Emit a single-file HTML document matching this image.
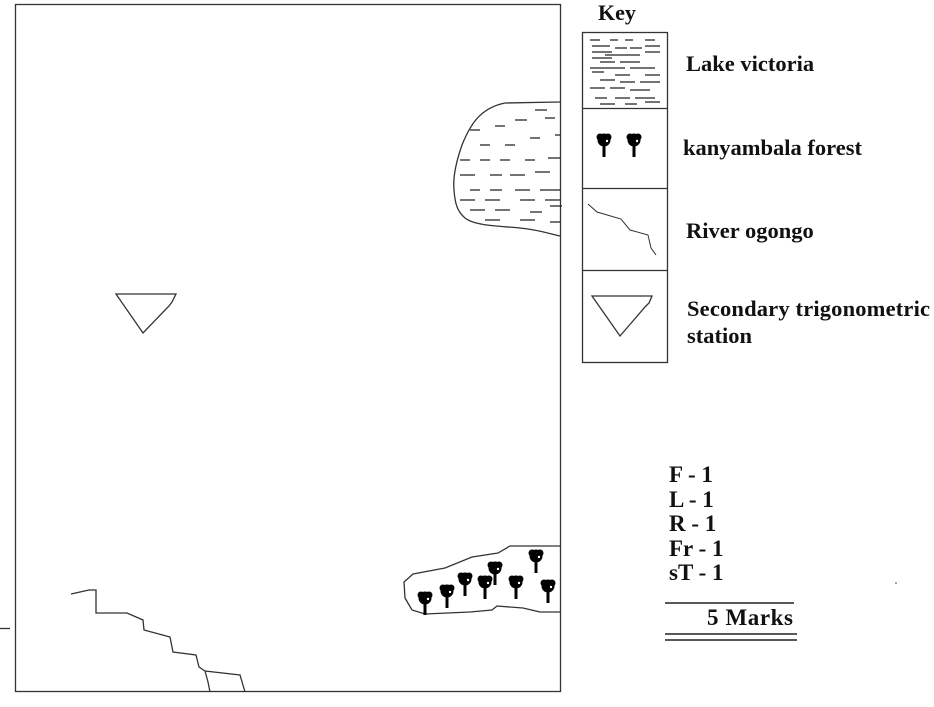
<!DOCTYPE html>
<html><head><meta charset="utf-8"><style>
body{margin:0;background:#fff}
svg text{font-family:"Liberation Serif",serif;font-weight:bold;fill:#111}
</style></head><body>
<svg width="934" height="702" viewBox="0 0 934 702" xmlns="http://www.w3.org/2000/svg">
<defs>
<g id="tree"><circle cx="0" cy="0" r="6.5" fill="#000"/><circle cx="-4" cy="-3" r="3.5" fill="#000"/><circle cx="4" cy="-3" r="3.5" fill="#000"/><rect x="-1.5" y="3" width="3" height="14" fill="#000"/><circle cx="3" cy="1" r="1.2" fill="#fff"/></g>
</defs>
<g fill="none" stroke="#333" stroke-width="1.3">
<rect x="15.5" y="4.5" width="545" height="687"/>
<rect x="582.5" y="32.5" width="85" height="330"/>
<line x1="582" y1="108.5" x2="668" y2="108.5"/>
<line x1="582" y1="188.5" x2="668" y2="188.5"/>
<line x1="582" y1="270.5" x2="668" y2="270.5"/>
<line x1="0" y1="628.5" x2="10" y2="628.5"/>
<path d="M560,102 L505,103 C480,108 470,125 462,145 C455,165 453,180 454,190 C455,205 458,212 465,218 C475,226 500,226 520,228 C540,230 550,234 560,236"/>
<path d="M116,294 L176,294 L172,302 L169,306 L143,333 Z"/>
<path d="M592,296 L652,296 L649,303 L645,307 L620,336 Z"/>
<path d="M71,594 L89,590 L96,590 L96,613 L127,613 L143,620 L144,630 L170,637 L173,652 L196,655 L199,667 L205,671 L240,675 L245,692 M205,671 L208,682 L210,692"/>
<path d="M588,204 L597,212 L621,219 L630,230 L648,235 L651,248 L656,255" stroke-width="1"/>
<path d="M560,546 L510,546 L498,553 L472,557 L445,568 L413,574 L404,582 L405,598 L412,610 L425,614 L470,612 L492,610 L497,606 L523,608 L540,612 L560,612"/>
</g>
<g stroke="#222" stroke-width="1.2">
<path d="M470,130h10M495,126h10M515,120h12M535,110h12M545,118h10M480,145h10M505,145h10M530,138h10M555,135h5M460,160h10M480,160h10M500,160h10M525,160h10M548,158h12M460,175h15M490,175h12M510,175h15M535,172h15M470,190h10M490,190h12M515,190h15M540,190h20M460,200h15M485,200h15M520,200h15M545,200h15M470,210h15M495,210h15M530,212h12M550,206h12M485,220h15M520,220h15M550,222h10"/>
<path d="M590,40h10M610,40h8M625,40h8M645,40h10M592,46h18M615,48h12M630,48h12M645,46h15M592,52h20M605,55h20M625,55h15M645,52h15M592,58h20M600,62h15M620,62h20M590,68h25M610,68h15M630,68h25M645,75h15M592,72h12M615,75h15M600,80h15M620,82h15M640,82h20M590,88h15M610,88h15M630,90h20M595,98h12M615,98h15M635,98h20M600,104h15M625,104h12M645,102h15"/>
</g>
<use href="#tree" x="604" y="140"/><use href="#tree" x="634" y="140"/>
<use href="#tree" x="425" y="598"/><use href="#tree" x="447" y="591"/><use href="#tree" x="465" y="579"/><use href="#tree" x="485" y="582"/><use href="#tree" x="495" y="568"/><use href="#tree" x="516" y="582"/><use href="#tree" x="536" y="556"/><use href="#tree" x="548" y="586"/>
<text x="598" y="20" font-size="22">Key</text>
<text x="686" y="71" font-size="22.5">Lake victoria</text>
<text x="683" y="155" font-size="22.5">kanyambala forest</text>
<text x="686" y="238" font-size="22.5">River ogongo</text>
<text x="687" y="316" font-size="22.5" textLength="243">Secondary trigonometric</text>
<text x="687" y="343" font-size="22.5">station</text>
<g font-size="23">
<text x="669" y="482">F - 1</text>
<text x="669" y="507">L - 1</text>
<text x="669" y="531">R - 1</text>
<text x="669" y="556">Fr - 1</text>
<text x="669" y="580">sT - 1</text>
<text x="707" y="625" font-weight="normal" textLength="86">5 Marks</text>
</g>
<g stroke="#222" stroke-width="1.5">
<line x1="665" y1="603" x2="794" y2="603"/>
<line x1="665" y1="634" x2="797" y2="634"/>
<line x1="665" y1="640" x2="797" y2="640"/>
</g>
<circle cx="896" cy="583" r="0.8" fill="#333"/>
</svg>
</body></html>
